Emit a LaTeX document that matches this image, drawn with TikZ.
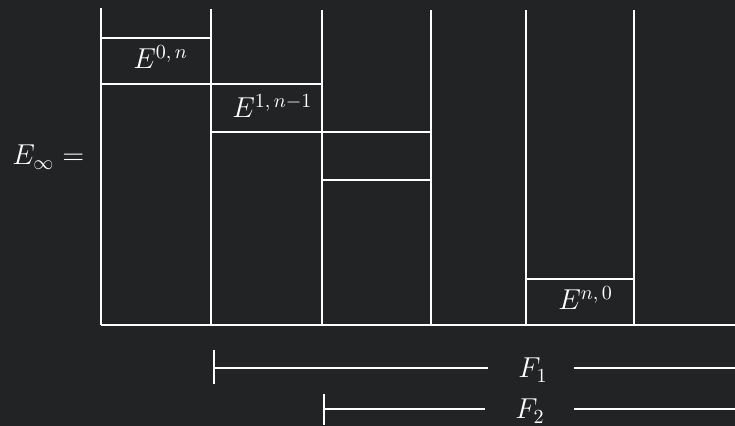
\documentclass[tikz,border=0pt]{standalone}
\definecolor{bg}{RGB}{34,35,37}
\tikzset{
  rule/.style={draw=white, line width=0.9pt},
  lbl/.style={text=white, inner sep=0pt, anchor=base west, font=\fontsize{14}{16}\selectfont}
}
\begin{document}
\begin{tikzpicture}[x=0.5pt,y=-0.5pt]
\fill[bg] (0,0) rectangle (735,426);
\useasboundingbox (0,0) rectangle (735,426);
% columns
\draw[rule] (101,8) -- (101,325);
\draw[rule] (211,9) -- (211,325);
\draw[rule] (322,10) -- (322,325);
\draw[rule] (431,10) -- (431,325);
\draw[rule] (526,10) -- (526,325);
\draw[rule] (634,10) -- (634,325);
% baseline
\draw[rule] (101,325) -- (735,325);
% horizontal divisions
\draw[rule] (101,38) -- (211,38);
\draw[rule] (101,84) -- (322,84);
\draw[rule] (211,132) -- (431,132);
\draw[rule] (322,180) -- (431,180);
\draw[rule] (526,279) -- (634,279);
% labels
\node[lbl] (einf) at (12,165) {$E_\infty =$};
\node[lbl] (e0n) at (133,69) {$E^{0,\,n}$};
\node[lbl] (e1n) at (232,118) {$E^{1,\,n-1}$};
\node[lbl] (en0) at (558,310) {$E^{n,\,0}$};
% filtration bars
\node[lbl] (f1) at (518,378) {$F_1$};
\node[lbl] (f2) at (515,419) {$F_2$};
\coordinate (f1s) at (214,368);
\coordinate (f2s) at (324,409);
\coordinate (f1e) at (735,368);
\coordinate (f2e) at (735,409);
\draw[rule] (214,350) -- (214,384);
\draw[rule] (324,394) -- (324,425);
\draw[rule] (f1s) -- (488,368);
\draw[rule] (574,368) -- (f1e);
\draw[rule] (f2s) -- (485,409);
\draw[rule] (574,409) -- (f2e);
\end{tikzpicture}
\end{document}
